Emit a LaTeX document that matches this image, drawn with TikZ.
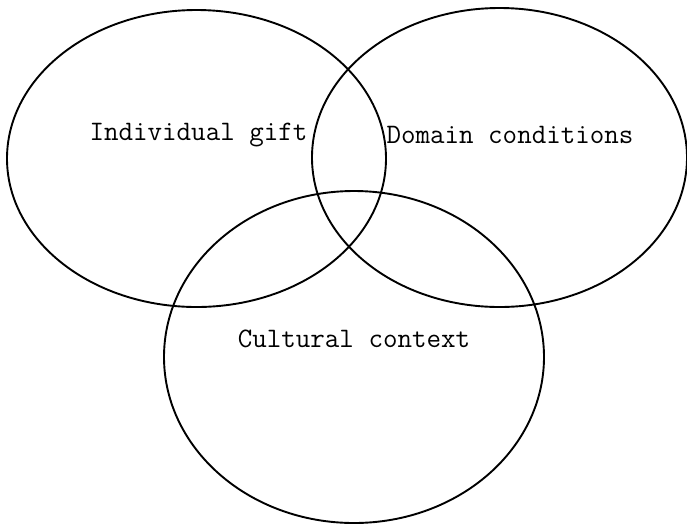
\documentclass[tikz,border=0pt]{standalone}

\begin{document}
\begin{tikzpicture}[
    x=0.5pt, y=-0.5pt,
    set/.style={draw, line width=0.95pt},
    label/.style={font=\ttfamily\fontsize{14.1}{16}\selectfont, inner sep=0pt}
]
\useasboundingbox (0,0) rectangle (687,527);

\draw[set] (196.5,158.5) ellipse [x radius=189.5, y radius=148.5];
\draw[set] (499.5,157.5) ellipse [x radius=187.5, y radius=149.5];
\draw[set] (354,357) ellipse [x radius=190, y radius=166];

\node[label] (gift) at (198.5,135) {Individual gift};
\node[label] (domain) at (510,135) {Domain conditions};
\node[label] (culture) at (354,339) {Cultural context};

\end{tikzpicture}
\end{document}
